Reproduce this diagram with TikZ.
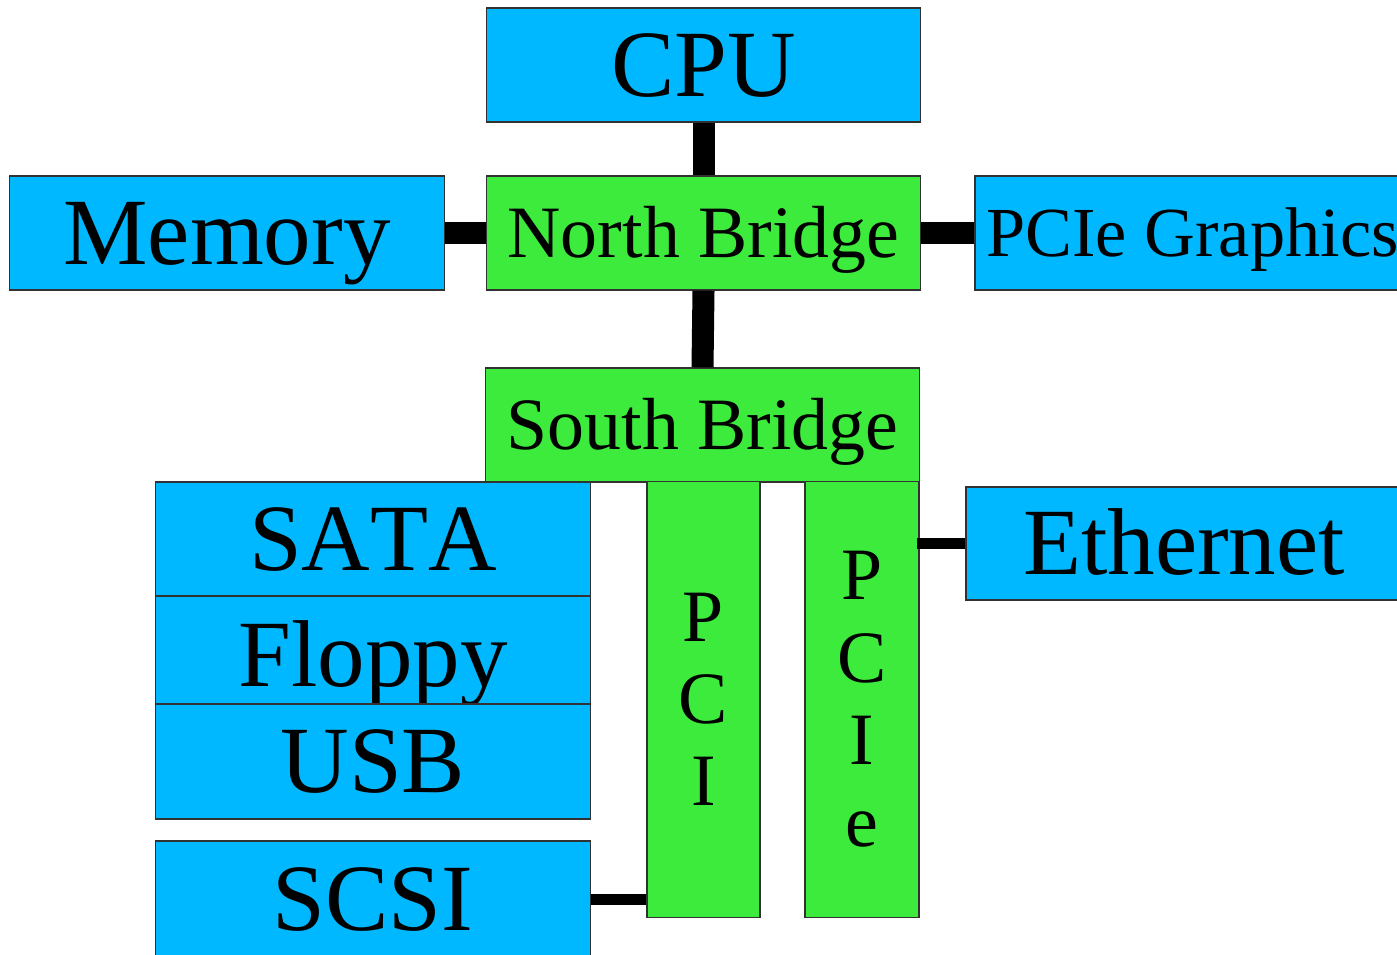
\documentclass[tikz,border=0pt]{standalone}
\usepackage{fontspec}
\setmainfont{Liberation Serif}[Kerning=Off]
\usetikzlibrary{calc}
\definecolor{boxblue}{RGB}{0,184,255}
\definecolor{boxgreen}{RGB}{61,235,61}
\definecolor{edge}{RGB}{50,50,50}
\tikzset{
  box/.style={rectangle, draw=edge, line width=0.35pt, inner sep=0pt, text=black},
  bluebox/.style={box, fill=boxblue},
  greenbox/.style={box, fill=boxgreen},
  bigtxt/.style={font=\fontsize{27}{30}\selectfont, text height=17.9pt, text depth=0pt},
  midtxt/.style={font=\fontsize{21}{24}\selectfont, text height=13.9pt, text depth=0pt},
  gfxtxt/.style={font=\fontsize{20}{23}\selectfont, text height=13.2pt, text depth=0pt},
  vtxt/.style={font=\fontsize{21}{23.4}\selectfont, align=center},
  busthick/.style={line width=6.26pt, draw=black},
  busthin/.style={line width=3.1pt, draw=black},
}
\begin{document}
\begin{tikzpicture}[x=0.01cm, y=-0.01cm]
\path[use as bounding box] (0,0) rectangle (1397,954);
\clip (0,0) rectangle (1397,954);
% boxes
\node[bluebox, bigtxt, minimum width=4.33cm, minimum height=1.14cm] (cpu) at (703.5,65) {CPU};
\node[bluebox, bigtxt, minimum width=4.34cm, minimum height=1.14cm] (mem) at (227,233) {Memory};
\node[greenbox, midtxt, minimum width=4.33cm, minimum height=1.14cm] (nb) at (703.5,233) {North Bridge};
\node[bluebox, gfxtxt, minimum width=4.35cm, minimum height=1.14cm] (gfx) at (1192.5,233) {PCIe Graphics};
\node[greenbox, midtxt, minimum width=4.33cm, minimum height=1.14cm] (sb) at (702.5,425) {South Bridge};
\node[bluebox, bigtxt, minimum width=4.34cm, minimum height=1.14cm] (sata) at (373,539) {SATA};
\node[bluebox, bigtxt, minimum width=4.34cm, minimum height=1.08cm, text height=20.7pt] (floppy) at (373,650) {Floppy};
\node[bluebox, bigtxt, minimum width=4.34cm, minimum height=1.15cm] (usb) at (373,761.5) {USB};
\node[bluebox, bigtxt, minimum width=4.34cm, minimum height=1.17cm] (scsi) at (373,899.5) {SCSI};
\node[greenbox, vtxt, minimum width=1.13cm, minimum height=4.35cm] (pci) at (703.5,699.5) {P\\C\\I};
\node[greenbox, vtxt, minimum width=1.14cm, minimum height=4.35cm] (pcie) at (862,699.5) {P\\C\\I\\e};
\node[bluebox, bigtxt, minimum width=4.36cm, minimum height=1.13cm] (eth) at (1184,543.5) {Ethernet};
% connectors
\draw[busthick] (cpu.south) -- (nb.north);
\draw[busthick] (mem.east) -- (nb.west);
\draw[busthick] (nb.east) -- (gfx.west);
\draw[busthick] (nb.south) -- (sb.north);
\draw[busthin] (eth.west) -- ([xshift=-0.03cm]eth.west -| pcie.east);
\draw[busthin] (scsi.east) -- (scsi.east -| pci.west);
\end{tikzpicture}
\end{document}
